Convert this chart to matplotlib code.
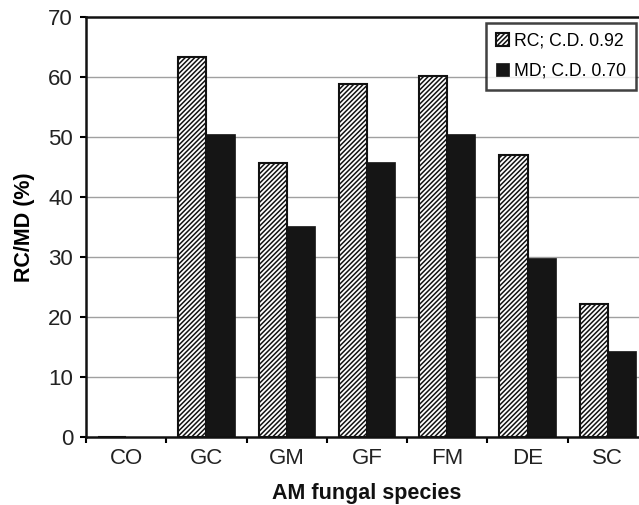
import matplotlib
matplotlib.use("Agg")
import matplotlib.pyplot as plt
import numpy as np

categories = ["CO", "GC", "GM", "GF", "FM", "DE", "SC"]
rc_values = [0, 63.3, 45.6, 58.8, 60.2, 47.0, 22.2]
md_values = [0, 50.5, 35.2, 45.9, 50.5, 29.8, 14.3]
legend_labels = ["RC; C.D. 0.92", "MD; C.D. 0.70"]
yticks = [0, 10, 20, 30, 40, 50, 60, 70]

plt.rcParams['font.family'] = ['Liberation Sans', 'DejaVu Sans']
plt.rcParams['hatch.linewidth'] = 1.1

fig = plt.figure(figsize=(6.39, 5.05), dpi=100)
ax = fig.add_axes([86/639, 68/505, (648-86)/639, (437-17)/505])

x = np.arange(len(categories))
w = 0.35
ax.bar(x - w/2, rc_values, w, facecolor='white', edgecolor='#111111',
       hatch='///////', linewidth=1.5, label=legend_labels[0], zorder=2)
ax.bar(x + w/2, md_values, w, facecolor='#151515', edgecolor='#151515',
       linewidth=0.5, label=legend_labels[1], zorder=2)

ax.set_xlim(-0.5, len(categories) - 0.5)
ax.set_ylim(0, 70)
ax.set_yticks(yticks)
ax.set_yticklabels([str(v) for v in yticks], fontsize=16, color='#222222')
for v in yticks[1:-1]:
    ax.axhline(v, color='#a0a0a0', linewidth=1.0, zorder=1)

ax.set_xticks(np.arange(len(categories) + 1) - 0.5)
ax.set_xticklabels([])
ax.set_xticks(x, minor=True)
ax.set_xticklabels(categories, minor=True, fontsize=16, color='#222222')
ax.tick_params(axis='x', which='major', direction='out', length=4.5, width=1.5)
ax.tick_params(axis='x', which='minor', length=0, pad=8)
ax.tick_params(axis='y', direction='out', length=4.5, width=1.5, pad=4.8)

for s in ax.spines.values():
    s.set_linewidth(1.8)
    s.set_color('#111111')

ax.set_ylabel("RC/MD (%)", fontsize=15.5, fontweight='bold', labelpad=9.8)
fig.text((86 + 648) / 2 / 639, 1 - 493/505, "AM fungal species", fontsize=15.5,
         fontweight='bold', ha='center', va='center', color='#111111')

leg = ax.legend(loc='upper left', bbox_to_anchor=(486/639, 1 - 23/505),
                bbox_transform=fig.transFigure, fontsize=12.7, frameon=True,
                fancybox=False, handlelength=0.75, handleheight=0.75,
                handletextpad=0.3, borderaxespad=0.0, labelspacing=0.75,
                borderpad=0.55)
leg.get_frame().set_edgecolor('#111111')
leg.get_frame().set_linewidth(1.8)

fig.savefig("out.png", dpi=100)
